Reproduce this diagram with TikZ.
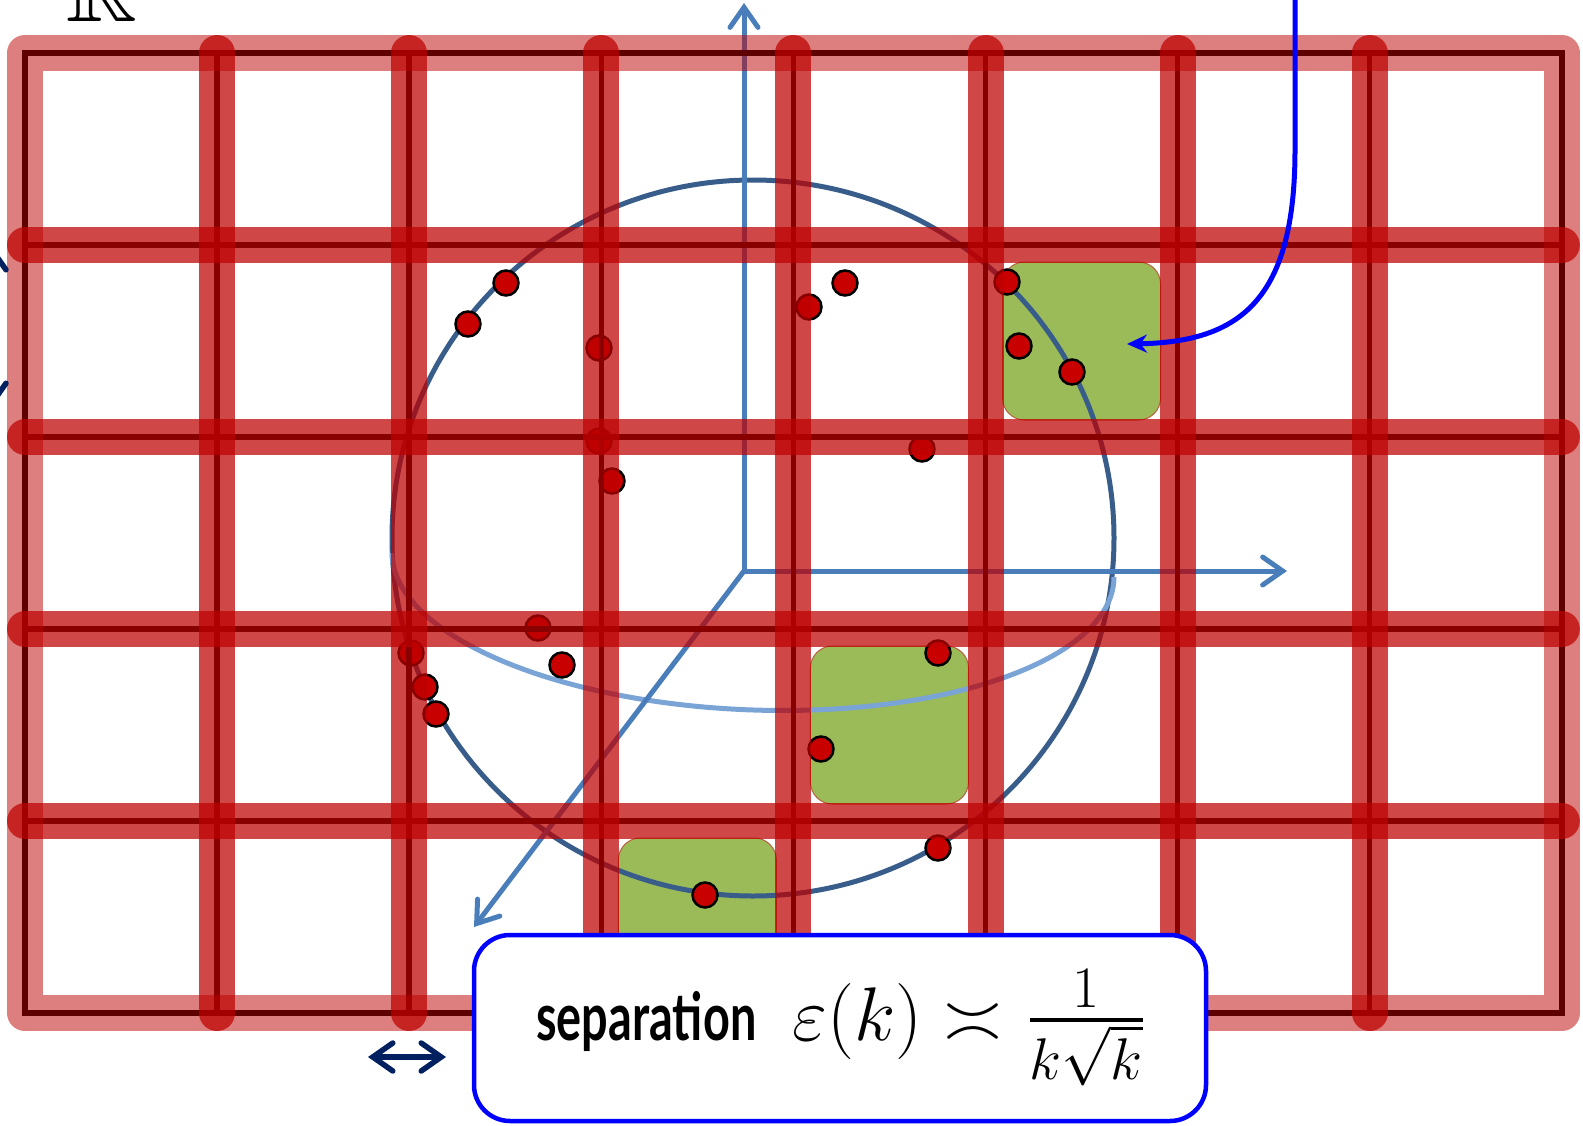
\documentclass[tikz,border=0pt]{standalone}
\usepackage{fix-cm}
\usepackage{amssymb}
\usepackage{graphicx}
\usepackage{fontspec}
\newfontfamily\sepfont{Lato}
\usetikzlibrary{arrows.meta}

\definecolor{bandred}{RGB}{189,0,0}
\definecolor{axisblue}{RGB}{74,126,187}
\definecolor{spheredark}{RGB}{56,93,138}
\definecolor{spherelight}{RGB}{122,163,214}
\definecolor{cellgreen}{RGB}{155,187,89}
\definecolor{celledge}{RGB}{185,95,60}
\definecolor{dotred}{RGB}{200,0,0}
\definecolor{navyblue}{RGB}{0,32,96}

% cell size of the grid (in px of the picture)
\newcommand{\cw}{192.1}
\newcommand{\ch}{192}

\begin{document}
\begin{tikzpicture}[
    x=1pt, y=-1pt,
    band/.style={line width=36pt, bandred, opacity=0.72, line cap=round},
    rim/.style={line width=36pt, bandred, opacity=0.5, line join=round},
    gridline/.style={line width=5.5pt, black},
    cellbox/.style={rectangle, rounded corners=22pt, fill=cellgreen, draw=celledge, line width=1pt,
                    minimum width=158pt, minimum height=158pt, inner sep=0pt},
    dot/.style={circle, fill=dotred, draw=black, line width=2.5pt, minimum size=25pt, inner sep=0pt},
    axis/.style={axisblue, line width=5pt, -{Straight Barb[length=20pt, width=28pt, line cap=round]}},
    sepbar/.style={navyblue, line width=5.5pt,
                   {Straight Barb[length=20pt, width=28pt, line cap=round]}-{Straight Barb[length=20pt, width=28pt, line cap=round]}},
]
    \useasboundingbox (0,0) rectangle (1583,1125);

    % Green cells
    \node[cellbox] (g1) at ({25+5.5*\cw}, {53+1.5*\ch}) {};
    \node[cellbox] (g2) at ({25+4.5*\cw}, {53+3.5*\ch}) {};
    \node[cellbox] (g3) at ({25+3.5*\cw}, {53+4.5*\ch}) {};

    % Sphere and equator
    \draw[spheredark, line width=5pt] (753,538) ellipse [x radius=361pt, y radius=358pt];
    \draw[spherelight, line width=5pt] plot[domain=0:180, samples=90]
        ({753+361*cos(\x)}, {565+145*sin(\x)+12*cos(\x)});

    % Axes
    \coordinate (O)  at (744,571);
    \coordinate (yt) at (744,3);
    \coordinate (xt) at (1287,571);
    \coordinate (zt) at (474,927);
    \draw[axis] (O) -- (yt);
    \draw[axis] (O) -- (xt);
    \draw[axis] (O) -- (zt);

    % Sample points
    \foreach \px/\py [count=\i] in {506/283, 468/324, 599/348, 599/441, 612/481, 809/307, 845/283,
        1007/282, 1019/346, 1072/372, 922/449, 538/628, 562/665, 411/653, 425/687, 436/714,
        938/653, 821/749, 938/848, 705/895}
      \node[dot] (d\i) at (\px,\py) {};

    % Grid: thin lines below
    \draw[gridline] (25,53) rectangle ({25+8*\cw},{53+5*\ch});
    \foreach \k in {1,...,7}
      \draw[gridline] ({25+\k*\cw},53) -- ({25+\k*\cw},{53+5*\ch});
    \foreach \k in {1,...,4}
      \draw[gridline] (25,{53+\k*\ch}) -- ({25+8*\cw},{53+\k*\ch});

    % Grid: wide translucent bands
    \draw[rim] (25,53) rectangle ({25+8*\cw},{53+5*\ch});
    \foreach \k in {1,...,7}
      \draw[band] ({25+\k*\cw},53) -- ({25+\k*\cw},{53+5*\ch});
    \foreach \k in {1,...,4}
      \draw[band] (25,{53+\k*\ch}) -- ({25+8*\cw},{53+\k*\ch});

    % Pointer into the marked cell
    \coordinate (cstart) at (1295,-8);
    \coordinate (gtip) at (1127,344);
    \draw[blue, line width=5pt, -{Stealth[length=20pt, width=18pt]}]
        (cstart) -- (1295,150) .. controls (1295,300) and (1240,342) .. (gtip);

    % Separation markers
    \coordinate (sa) at (368,1057);
    \coordinate (sb) at (446,1057);
    \draw[sepbar] (sa) -- (sb);
    \coordinate (va) at (-8,245);
    \coordinate (vb) at (-8,408);
    \draw[sepbar] (va) -- (vb);

    % Label box
    \node[draw=blue, line width=4.5pt, fill=white, rounded corners=36pt,
          minimum width=732pt, minimum height=186pt, inner sep=0pt] (sep) at (840,1028)
        {\raisebox{-9pt}{{\sepfont\bfseries\fontsize{66}{70}\selectfont\scalebox{0.71}[1]{separation}}\hspace{36pt}%
         {\fontsize{76}{84}\selectfont$\varepsilon(k)\asymp$}\hspace{26pt}%
         {\fontsize{84}{90}\selectfont$\frac{1}{k\sqrt{k}}$}}};

    % Space label
    \node[anchor=base, inner sep=0pt, font=\fontsize{98}{100}\selectfont] (realR) at (102,21) {$\mathbb{R}$};
\end{tikzpicture}
\end{document}
